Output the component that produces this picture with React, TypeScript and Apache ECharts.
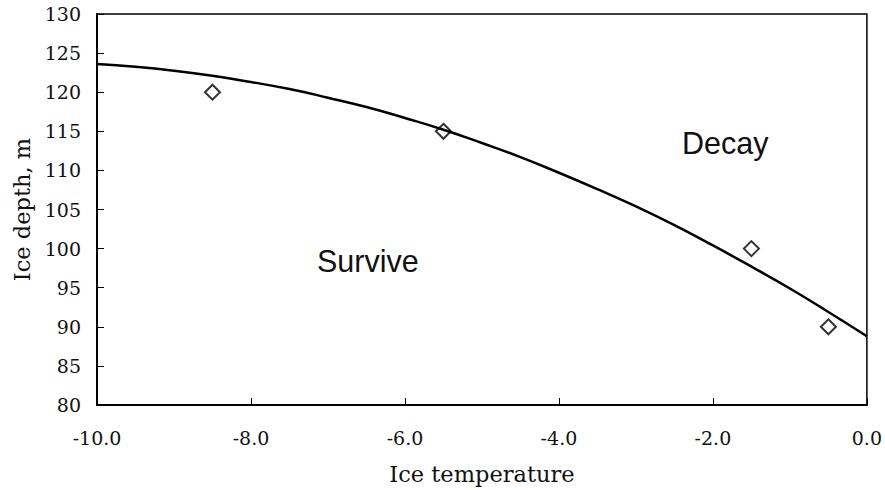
import React, { useEffect, useRef } from "react";
import * as echarts from "echarts";

const curveX = [-10, -9.5, -9, -8.5, -8, -7.5, -7, -6.5, -6, -5.5, -5, -4.5, -4, -3.5, -3, -2.5, -2, -1.5, -1, -0.5, 0];
const curveY = [123.6, 123.25, 122.75, 122.1, 121.3, 120.4, 119.3, 118.1, 116.7, 115.2, 113.5, 111.7, 109.7, 107.6, 105.4, 103.0, 100.4, 97.7, 94.9, 91.9, 88.8];
const obsX = [-8.5, -5.5, -1.5, -0.5];
const obsY = [120, 115, 100, 90];
const xTicks = [-10, -8, -6, -4, -2, 0];
const regionLabels = ["Survive", "Decay"];

const serif = "DejaVu Serif";

export default function App() {
  const ref = useRef<HTMLDivElement>(null);
  useEffect(() => {
    const chart = echarts.init(ref.current!, null, { renderer: "svg" });
    chart.setOption({
      animation: false,
      backgroundColor: "#fff",
      grid: { left: 97, right: 12, top: 14, bottom: 85, show: true, borderColor: "#000", borderWidth: 1.5, backgroundColor: "transparent" },
      xAxis: {
        type: "value",
        min: -10,
        max: 0,
        interval: 2,
        name: "Ice temperature",
        nameLocation: "middle",
        nameGap: 57,
        nameTextStyle: { fontFamily: serif, fontSize: 22.5, color: "#111" },
        axisLine: { show: true, onZero: false, lineStyle: { color: "#000", width: 2 } },
        axisTick: { show: true, inside: true, length: 7, lineStyle: { color: "#000", width: 1 } },
        axisLabel: { fontFamily: serif, fontSize: 19, color: "#111", margin: 23, formatter: (v: number) => (xTicks.includes(v) ? v.toFixed(1) : "") },
        splitLine: { show: false },
      },
      yAxis: {
        type: "value",
        min: 80,
        max: 130,
        interval: 5,
        name: "Ice depth, m",
        nameLocation: "middle",
        nameGap: 63,
        nameTextStyle: { fontFamily: serif, fontSize: 22.5, color: "#111" },
        axisLine: { show: true, onZero: false, lineStyle: { color: "#000", width: 2 } },
        axisTick: { show: true, inside: true, length: 7, lineStyle: { color: "#000", width: 1 } },
        axisLabel: { fontFamily: serif, fontSize: 19, color: "#111", margin: 16 },
        splitLine: { show: false },
      },
      series: [
        {
          type: "line",
          data: curveX.map((x, i) => [x, curveY[i]]),
          smooth: true,
          showSymbol: false,
          lineStyle: { color: "#000", width: 2.5 },
        },
        {
          type: "scatter",
          data: obsX.map((x, i) => [x, obsY[i]]),
          symbol: "diamond",
          symbolSize: [15, 15],
          itemStyle: { color: "#fff", borderColor: "#000", borderWidth: 2 },
        },
      ],
      graphic: [
        { type: "text", left: 317, top: 245, style: { text: regionLabels[0], font: "30.5px 'Liberation Sans'", fill: "#111" } },
        { type: "text", left: 682, top: 127, style: { text: regionLabels[1], font: "30.5px 'Liberation Sans'", fill: "#111" } },
      ],
    });
    return () => chart.dispose();
  }, []);
  return <div ref={ref} style={{ width: 885, height: 490, position: "absolute", left: 0, top: 0 }} />;
}
